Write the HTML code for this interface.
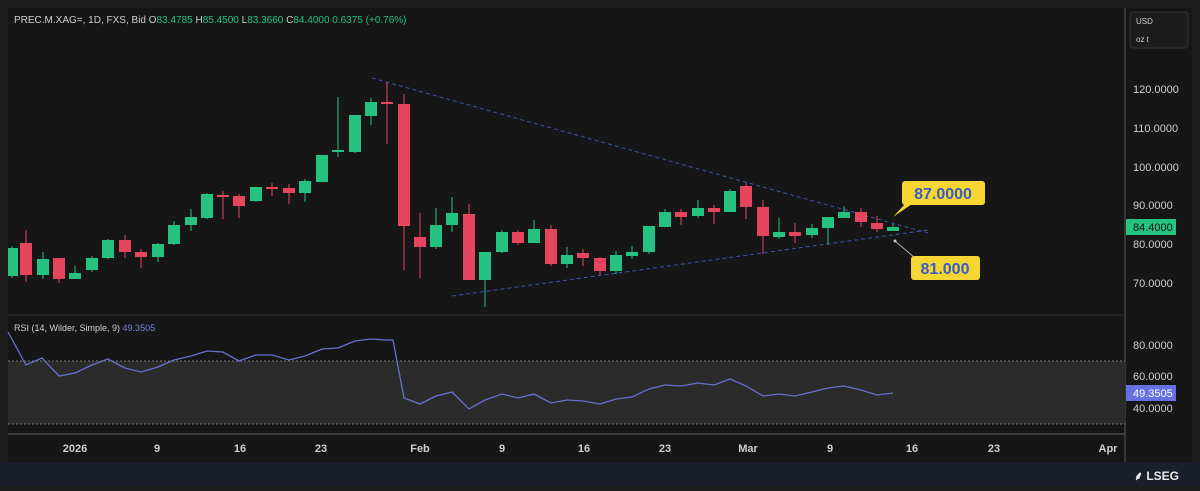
<!DOCTYPE html><html><head><style>
body{margin:0;width:1200px;height:486px;background:#1e1e1e;overflow:hidden;font-family:"Liberation Sans",sans-serif}
.g line{stroke:#26c281}.g rect{fill:#26c281}.r line{stroke:#e5455f}.r rect{fill:#e5455f}
</style></head><body>
<svg width="1200" height="486" xmlns="http://www.w3.org/2000/svg" font-family="Liberation Sans, sans-serif">
<rect x="0" y="0" width="1200" height="486" fill="#1e1e1e"/>
<rect x="8" y="8" width="1184" height="454" fill="#161616"/>
<rect x="0" y="462" width="1200" height="24" fill="#1b1f2b"/>
<text x="1134" y="480" fill="#e8e8e8" font-size="12" font-weight="bold">⸙ LSEG</text>
<text x="14" y="23" font-size="10" fill="#cfcfcf">PREC.M.XAG=, 1D, FXS, Bid  O<tspan fill="#26c281">83.4785</tspan>  H<tspan fill="#26c281">85.4500</tspan>  L<tspan fill="#26c281">83.3660</tspan>  C<tspan fill="#26c281">84.4000</tspan>  <tspan fill="#26c281">0.6375 (+0.76%)</tspan></text>
<line x1="1125" y1="8" x2="1125" y2="462" stroke="#555"/>
<rect x="1130" y="12" width="58" height="36" rx="3" fill="#1c1c1c" stroke="#333"/>
<text x="1136" y="24" font-size="8" fill="#ccc">USD</text>
<text x="1136" y="42" font-size="8" fill="#ccc">oz t</text>
<g font-size="11" fill="#cfcfcf">
<text x="1133" y="93">120.0000</text><text x="1133" y="132">110.0000</text><text x="1133" y="171">100.0000</text><text x="1133" y="209">90.0000</text><text x="1133" y="248">80.0000</text><text x="1133" y="287">70.0000</text>
<text x="1133" y="349">80.0000</text><text x="1133" y="380">60.0000</text><text x="1133" y="412">40.0000</text>
</g>
<rect x="1126" y="219" width="50" height="16" fill="#26c281"/><text x="1133" y="231" font-size="11" fill="#111">84.4000</text>
<rect x="1126" y="385" width="50" height="16" fill="#6670e0"/><text x="1133" y="397" font-size="11" fill="#fff">49.3505</text>
<line x1="8" y1="315" x2="1125" y2="315" stroke="#2a2a2a"/>
<rect x="8" y="361" width="1117" height="63" fill="#2b2b2b"/>
<line x1="8" y1="361" x2="1125" y2="361" stroke="#777" stroke-dasharray="2,2"/>
<line x1="8" y1="424" x2="1125" y2="424" stroke="#777" stroke-dasharray="2,2"/>
<line x1="8" y1="434" x2="1125" y2="434" stroke="#666"/>
<text x="14" y="331" font-size="9" fill="#cfcfcf">RSI (14, Wilder, Simple, 9)  <tspan fill="#7a80e0">49.3505</tspan></text>
<polyline fill="none" stroke="#6670d0" stroke-width="1.3" points="8,332 26,365 42,358 59,376 75,373 92,365 108,359 125,368 141,372 158,367 174,360 191,356 207,351 223,352 239,361 256,355 272,355 289,360 305,356 322,349 338,348 355,341 371,339 387,340 393,340 404,398 420,404 436,396 452,392 469,409 485,400 502,394 518,398 534,394 551,403 567,400 583,401 600,404 616,399 632,397 649,389 665,385 681,386 698,383 714,385 730,379 746,386 763,396 779,394 795,396 812,392 828,388 844,386 861,390 877,395 893,393"/>
<g font-size="11" fill="#cfcfcf" text-anchor="middle" font-weight="bold">
<text x="75" y="452">2026</text><text x="157" y="452">9</text><text x="240" y="452">16</text><text x="321" y="452">23</text><text x="420" y="452">Feb</text><text x="502" y="452">9</text><text x="584" y="452">16</text><text x="665" y="452">23</text><text x="748" y="452">Mar</text><text x="830" y="452">9</text><text x="912" y="452">16</text><text x="994" y="452">23</text><text x="1108" y="452">Apr</text>
</g>
<line x1="372" y1="78" x2="928" y2="233" stroke="#3a56a8" stroke-dasharray="4,3"/>
<line x1="452" y1="296" x2="928" y2="230" stroke="#3a56a8" stroke-dasharray="4,3"/>
<g class="g"><line x1="12" y1="246" x2="12" y2="278"/><rect x="8" y="248" width="10" height="28"/></g>
<g class="r"><line x1="26" y1="230" x2="26" y2="282"/><rect x="20" y="243" width="12" height="32"/></g>
<g class="g"><line x1="43" y1="252" x2="43" y2="279"/><rect x="37" y="259" width="12" height="16"/></g>
<g class="r"><line x1="59" y1="258" x2="59" y2="283"/><rect x="53" y="258" width="12" height="21"/></g>
<g class="g"><line x1="75" y1="266" x2="75" y2="279"/><rect x="69" y="273" width="12" height="6"/></g>
<g class="g"><line x1="92" y1="256" x2="92" y2="272"/><rect x="86" y="258" width="12" height="12"/></g>
<g class="g"><line x1="108" y1="239" x2="108" y2="259"/><rect x="102" y="240" width="12" height="18"/></g>
<g class="r"><line x1="125" y1="235" x2="125" y2="258"/><rect x="119" y="240" width="12" height="12"/></g>
<g class="r"><line x1="141" y1="249" x2="141" y2="268"/><rect x="135" y="252" width="12" height="5"/></g>
<g class="g"><line x1="158" y1="243" x2="158" y2="262"/><rect x="152" y="244" width="12" height="13"/></g>
<g class="g"><line x1="174" y1="221" x2="174" y2="245"/><rect x="168" y="225" width="12" height="19"/></g>
<g class="g"><line x1="191" y1="209" x2="191" y2="231"/><rect x="185" y="217" width="12" height="8"/></g>
<g class="g"><line x1="207" y1="193" x2="207" y2="219"/><rect x="201" y="194" width="12" height="24"/></g>
<g class="r"><line x1="223" y1="191" x2="223" y2="219"/><rect x="217" y="195" width="12" height="2"/></g>
<g class="r"><line x1="239" y1="194" x2="239" y2="218"/><rect x="233" y="196" width="12" height="10"/></g>
<g class="g"><line x1="256" y1="187" x2="256" y2="202"/><rect x="250" y="187" width="12" height="14"/></g>
<g class="r"><line x1="272" y1="183" x2="272" y2="196"/><rect x="266" y="187" width="12" height="2"/></g>
<g class="r"><line x1="289" y1="184" x2="289" y2="204"/><rect x="283" y="188" width="12" height="5"/></g>
<g class="g"><line x1="305" y1="179" x2="305" y2="202"/><rect x="299" y="181" width="12" height="12"/></g>
<g class="g"><line x1="322" y1="155" x2="322" y2="182"/><rect x="316" y="155" width="12" height="27"/></g>
<g class="g"><line x1="338" y1="97" x2="338" y2="157"/><rect x="332" y="150" width="12" height="2"/></g>
<g class="g"><line x1="355" y1="115" x2="355" y2="153"/><rect x="349" y="115" width="12" height="37"/></g>
<g class="g"><line x1="371" y1="98" x2="371" y2="125"/><rect x="365" y="102" width="12" height="14"/></g>
<g class="r"><line x1="387" y1="82" x2="387" y2="144"/><rect x="381" y="102" width="12" height="2"/></g>
<g class="r"><line x1="404" y1="94" x2="404" y2="270"/><rect x="398" y="104" width="12" height="122"/></g>
<g class="r"><line x1="420" y1="213" x2="420" y2="278"/><rect x="414" y="237" width="12" height="10"/></g>
<g class="g"><line x1="436" y1="208" x2="436" y2="249"/><rect x="430" y="225" width="12" height="22"/></g>
<g class="g"><line x1="452" y1="197" x2="452" y2="232"/><rect x="446" y="213" width="12" height="12"/></g>
<g class="r"><line x1="469" y1="204" x2="469" y2="280"/><rect x="463" y="214" width="12" height="66"/></g>
<g class="g"><line x1="485" y1="252" x2="485" y2="307"/><rect x="479" y="252" width="12" height="28"/></g>
<g class="g"><line x1="502" y1="230" x2="502" y2="253"/><rect x="496" y="232" width="12" height="20"/></g>
<g class="r"><line x1="518" y1="230" x2="518" y2="245"/><rect x="512" y="232" width="12" height="11"/></g>
<g class="g"><line x1="534" y1="220" x2="534" y2="243"/><rect x="528" y="229" width="12" height="14"/></g>
<g class="r"><line x1="551" y1="225" x2="551" y2="266"/><rect x="545" y="229" width="12" height="35"/></g>
<g class="g"><line x1="567" y1="247" x2="567" y2="268"/><rect x="561" y="255" width="12" height="9"/></g>
<g class="r"><line x1="583" y1="249" x2="583" y2="266"/><rect x="577" y="253" width="12" height="5"/></g>
<g class="r"><line x1="600" y1="257" x2="600" y2="275"/><rect x="594" y="258" width="12" height="13"/></g>
<g class="g"><line x1="616" y1="251" x2="616" y2="274"/><rect x="610" y="255" width="12" height="16"/></g>
<g class="g"><line x1="632" y1="246" x2="632" y2="259"/><rect x="626" y="252" width="12" height="4"/></g>
<g class="g"><line x1="649" y1="226" x2="649" y2="254"/><rect x="643" y="226" width="12" height="26"/></g>
<g class="g"><line x1="665" y1="209" x2="665" y2="227"/><rect x="659" y="212" width="12" height="15"/></g>
<g class="r"><line x1="681" y1="209" x2="681" y2="225"/><rect x="675" y="212" width="12" height="5"/></g>
<g class="g"><line x1="698" y1="200" x2="698" y2="218"/><rect x="692" y="208" width="12" height="8"/></g>
<g class="r"><line x1="714" y1="205" x2="714" y2="224"/><rect x="708" y="208" width="12" height="4"/></g>
<g class="g"><line x1="730" y1="189" x2="730" y2="212"/><rect x="724" y="191" width="12" height="21"/></g>
<g class="r"><line x1="746" y1="183" x2="746" y2="219"/><rect x="740" y="186" width="12" height="21"/></g>
<g class="r"><line x1="763" y1="200" x2="763" y2="254"/><rect x="757" y="207" width="12" height="29"/></g>
<g class="g"><line x1="779" y1="218" x2="779" y2="239"/><rect x="773" y="232" width="12" height="5"/></g>
<g class="r"><line x1="795" y1="223" x2="795" y2="243"/><rect x="789" y="232" width="12" height="4"/></g>
<g class="g"><line x1="812" y1="224" x2="812" y2="238"/><rect x="806" y="228" width="12" height="7"/></g>
<g class="g"><line x1="828" y1="217" x2="828" y2="245"/><rect x="822" y="217" width="12" height="11"/></g>
<g class="g"><line x1="844" y1="206" x2="844" y2="218"/><rect x="838" y="212" width="12" height="6"/></g>
<g class="r"><line x1="861" y1="208" x2="861" y2="227"/><rect x="855" y="212" width="12" height="10"/></g>
<g class="r"><line x1="877" y1="216" x2="877" y2="232"/><rect x="871" y="223" width="12" height="6"/></g>
<g class="g"><line x1="893" y1="224" x2="893" y2="231"/><rect x="887" y="227" width="12" height="4"/></g>
<polygon points="893,217 905,204 912,204" fill="#f5d633"/>
<rect x="902" y="181" width="83" height="24" rx="3" fill="#f5d633"/>
<text x="943" y="199" font-size="16" font-weight="bold" fill="#3a5bbf" text-anchor="middle">87.0000</text>
<line x1="895" y1="241" x2="915" y2="258" stroke="#aaa"/><circle cx="895" cy="241" r="1.5" fill="#ccc"/>
<rect x="911" y="256" width="69" height="24" rx="3" fill="#f5d633"/>
<text x="945" y="274" font-size="16" font-weight="bold" fill="#3a5bbf" text-anchor="middle">81.000</text>
</svg>
</body></html>
